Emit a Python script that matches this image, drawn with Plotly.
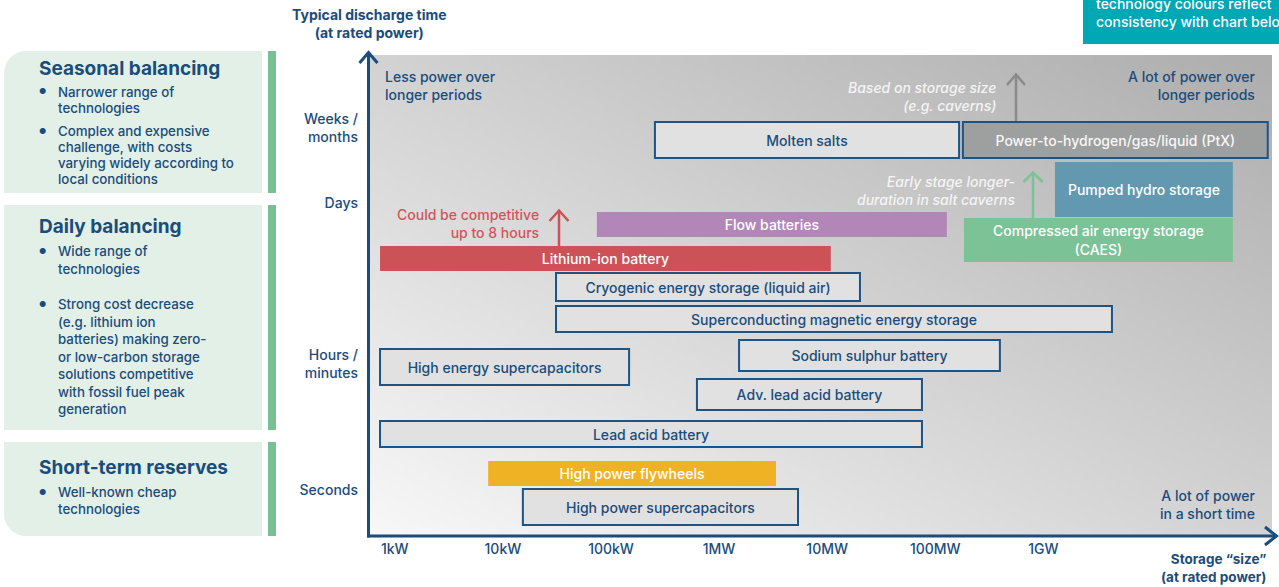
import base64
import struct
import zlib

import numpy as np
import plotly.graph_objects as go

# ---------------------------------------------------------------- data
technologies = [
    "Molten salts",
    "Power-to-hydrogen/gas/liquid (PtX)",
    "Pumped hydro storage",
    "Compressed air energy storage<br>(CAES)",
    "Flow batteries",
    "Lithium-ion battery",
    "Cryogenic energy storage (liquid air)",
    "Superconducting magnetic energy storage",
    "Sodium sulphur battery",
    "High energy supercapacitors",
    "Adv. lead acid battery",
    "Lead acid battery",
    "High power flywheels",
    "High power supercapacitors",
]
# storage size range (kW, at rated power)
power_min_kw = [255, 1.8e5, 1.28e6, 1.84e5, 74, 0.73, 31, 31, 1530, 0.73, 624, 0.73, 7.3, 15.3]
power_max_kw = [1.66e5, 1.19e8, 5.66e7, 5.66e7, 1.28e5, 1.08e4, 2.01e4, 4.31e6, 3.96e5, 147, 7.53e4, 7.53e4, 3360, 5370]
# typical discharge time (qualitative scale, 0 = instant ... 48 = seasonal)
duration_lo = [37.8, 37.8, 31.9, 27.4, 29.9, 26.5, 23.5, 20.4, 16.5, 15.1, 12.6, 8.9, 5.0, 1.1]
duration_hi = [41.4, 41.4, 37.4, 31.8, 32.4, 29.0, 26.3, 23.0, 19.6, 18.7, 15.7, 11.5, 7.5, 4.7]

power_tick_vals = [1, 10, 100, 1e3, 1e4, 1e5, 1e6]
power_tick_text = ["1kW", "10kW", "100kW", "1MW", "10MW", "100MW", "1GW"]
duration_tick_vals = [4.6, 17.2, 33.3, 40.8]
duration_tick_text = ["Seconds", "Hours /<br>minutes", "Days", "Weeks /<br>months"]

panel_titles = ["Seasonal balancing", "Daily balancing", "Short-term reserves"]
panel_bullets = [
    [["Narrower range of", "technologies"],
     ["Complex and expensive", "challenge, with costs", "varying widely according to", "local conditions"]],
    [["Wide range of", "technologies"],
     ["Strong cost decrease", "(e.g. lithium ion", "batteries) making zero-", "or low-carbon storage",
      "solutions competitive", "with fossil fuel peak", "generation"]],
    [["Well-known cheap", "technologies"]],
]

# ---------------------------------------------------------------- styles
NAVY = "#1a4c7c"
OUTLINE_FILL = "#e1e1e1"
OUTLINE_LINE = "#1c5485"
style = {
    "Power-to-hydrogen/gas/liquid (PtX)": ("#9e9f9f", OUTLINE_LINE, 2, "#f7f7f7"),
    "Pumped hydro storage": ("#6399b0", "#6399b0", 0, "#ffffff"),
    "Compressed air energy storage<br>(CAES)": ("#7bc296", "#7bc296", 0, "#ffffff"),
    "Flow batteries": ("#b287b8", "#b287b8", 0, "#ffffff"),
    "Lithium-ion battery": ("#cd5257", "#cd5257", 0, "#ffffff"),
    "High power flywheels": ("#efb225", "#efb225", 0, "#ffffff"),
}
default_style = (OUTLINE_FILL, OUTLINE_LINE, 2, NAVY)
fills = [style.get(t, default_style)[0] for t in technologies]
lines = [style.get(t, default_style)[1] for t in technologies]
lwidths = [style.get(t, default_style)[2] for t in technologies]
tcolors = [style.get(t, default_style)[3] for t in technologies]

FONT = "Inter, Roboto, sans-serif"
WEIGHT = 500
W, H = 1279, 587
PLOT_L, PLOT_R, PLOT_T, PLOT_B = 368, 1272, 55, 536


def px(x):
    return x / W


def py(y):
    return 1 - y / H


# ---------------------------------------------------------------- gradient background image
def gradient_uri(w=160, h=90, light=248, dark=174):
    u = np.linspace(0, 1, w)[None, :]
    v = np.linspace(1, 0, h)[:, None]
    t = (u + v) / 2
    val = (light - t * (light - dark)).astype(np.uint8)
    arr = np.repeat(val[:, :, None], 3, axis=2)
    raw = b"".join(b"\x00" + row.tobytes() for row in arr)

    def chunk(tag, data):
        c = struct.pack(">I", len(data)) + tag + data
        return c + struct.pack(">I", zlib.crc32(tag + data) & 0xFFFFFFFF)

    png = (b"\x89PNG\r\n\x1a\n"
           + chunk(b"IHDR", struct.pack(">IIBBBBB", w, h, 8, 2, 0, 0, 0))
           + chunk(b"IDAT", zlib.compress(raw))
           + chunk(b"IEND", b""))
    return "data:image/png;base64," + base64.b64encode(png).decode()


# ---------------------------------------------------------------- figure
lo = np.array(power_min_kw)
hi = np.array(power_max_kw)
dlo = np.array(duration_lo)
dhi = np.array(duration_hi)

fig = go.Figure()
fig.add_trace(go.Bar(
    orientation="h",
    y=(dlo + dhi) / 2,
    width=dhi - dlo,
    base=lo,
    x=hi - lo,
    text=technologies,
    textposition="inside",
    insidetextanchor="middle",
    textangle=0,
    constraintext="none",
    textfont=dict(family=FONT, size=14, color=tcolors, weight=WEIGHT),
    marker=dict(color=fills, line=dict(color=lines, width=lwidths)),
    hoverinfo="skip",
))

shapes = []


def seg(points, color, width):
    path = "M " + " L ".join(f"{px(a):.5f},{py(b):.5f}" for a, b in points)
    shapes.append(dict(type="path", xref="paper", yref="paper", path=path,
                       line=dict(color=color, width=width), layer="above"))


def rect(x0, y0, x1, y1, fill):
    shapes.append(dict(type="rect", xref="paper", yref="paper",
                       x0=px(x0), x1=px(x1), y0=py(y1), y1=py(y0),
                       fillcolor=fill, line=dict(width=0), layer="below"))


# axes with arrows
seg([(368.5, 537.5), (368.5, 53)], NAVY, 3)
seg([(359.5, 63), (368.5, 52.5), (377.5, 63)], NAVY, 3)
seg([(367, 536), (1276, 536)], NAVY, 3)
seg([(1265, 527), (1276.5, 536), (1265, 545)], NAVY, 3)

# small annotation arrows
seg([(559, 246), (559, 211)], "#cd5257", 2.5)
seg([(549.5, 221), (559, 210.5), (568.5, 221)], "#cd5257", 2.5)
seg([(1033, 218), (1033, 173)], "#7bc296", 2.5)
seg([(1023.5, 182), (1033, 172.5), (1042.5, 182)], "#7bc296", 2.5)
seg([(1016, 121), (1016, 75)], "#8a8a8a", 2.5)
seg([(1007, 85), (1016, 74.5), (1025, 85)], "#8a8a8a", 2.5)

# left panels
MINT = "#e3f0e8"
GREEN = "#78c195"
r = 22
k = 0.45
shapes.append(dict(type="path", xref="paper", yref="paper", layer="below",
                   fillcolor=MINT, line=dict(width=0),
                   path=(f"M {px(4)},{py(193)} L {px(4)},{py(51 + r)} "
                         f"C {px(4)},{py(51 + r * k)} {px(4 + r * k)},{py(51)} {px(4 + r)},{py(51)} "
                         f"L {px(262)},{py(51)} L {px(262)},{py(193)} Z")))
rect(268, 51, 276, 193, GREEN)
rect(4, 205, 262, 430, MINT)
rect(268, 205, 276, 430, GREEN)
shapes.append(dict(type="path", xref="paper", yref="paper", layer="below",
                   fillcolor=MINT, line=dict(width=0),
                   path=(f"M {px(4)},{py(442)} L {px(262)},{py(442)} L {px(262)},{py(536)} "
                         f"L {px(4 + r)},{py(536)} "
                         f"C {px(4 + r * k)},{py(536)} {px(4)},{py(536 - r * k)} {px(4)},{py(536 - r)} Z")))
rect(268, 442, 276, 536, GREEN)

# teal note box (top right)
rect(1083, -5, 1290, 44, "#00a7b5")

annotations = []


def note(text, x, y, xanchor="left", size=14, color=NAVY, bold=False,
         italic=False, yanchor="middle", weight=WEIGHT):
    if bold:
        text = "<br>".join(f"<b>{s}</b>" for s in text.split("<br>"))
    if italic:
        text = "<br>".join(f"<i>{s}</i>" for s in text.split("<br>"))
    annotations.append(dict(
        text=text, x=px(x), y=py(y), xref="paper", yref="paper",
        xanchor=xanchor, yanchor=yanchor, showarrow=False,
        align=xanchor if xanchor != "center" else "center",
        font=dict(family=FONT, size=size, color=color, weight=weight),
    ))


note("Typical discharge time<br>(at rated power)", 369, 23.5, xanchor="center", size=14, bold=True)
note("Storage “size”<br>(at rated power)", 1268, 568, xanchor="right", size=13.5, bold=True)
note("Less power over<br>longer periods", 383, 85)
note("A lot of power over<br>longer periods", 1257, 85, xanchor="right")
note("A lot of power<br>in a short time", 1257, 504.5, xanchor="right")
note("Based on storage size<br>(e.g. caverns)", 998, 96.5, xanchor="right", color="#f4f4f4", italic=True)
note("Early stage longer-<br>duration in salt caverns", 1017, 190.5, xanchor="right", color="#f4f4f4", italic=True)
note("Could be competitive<br>up to 8 hours", 541, 223.5, xanchor="right", color="#d2545b")
note("technology colours reflect<br>consistency with chart below", 1094, 12.5, color="#ffffff")

# panel titles and bullets (layout positions per panel)
title_y = [69, 226, 467]
para_y = [[92, 131], [251, 304], [492]]
line_step = [16, 17.5, 17]
for ti, title in enumerate(panel_titles):
    note(title, 37, title_y[ti], size=19, bold=True)
    for pi, para in enumerate(panel_bullets[ti]):
        y0 = para_y[ti][pi]
        note("●", 37, y0 - 0.5, size=8)
        for li, txt in enumerate(para):
            note(txt, 56, y0 + li * line_step[ti], size=13.3)

fig.update_layout(
    width=W, height=H,
    margin=dict(l=0, r=0, t=0, b=0),
    paper_bgcolor="#ffffff",
    plot_bgcolor="rgba(0,0,0,0)",
    showlegend=False,
    barmode="overlay",
    shapes=shapes,
    annotations=annotations,
    images=[dict(source=gradient_uri(), xref="paper", yref="paper",
                 x=px(PLOT_L), y=py(PLOT_T), sizex=px(PLOT_R) - px(PLOT_L),
                 sizey=py(PLOT_T) - py(PLOT_B), sizing="stretch",
                 xanchor="left", yanchor="top", layer="below")],
    xaxis=dict(
        type="log", range=[-0.248, 8.115],
        domain=[px(PLOT_L), px(PLOT_R)],
        tickvals=power_tick_vals, ticktext=power_tick_text,
        ticks="", ticklabelstandoff=3,
        tickfont=dict(family=FONT, size=14, color=NAVY, weight=WEIGHT),
        showgrid=False, zeroline=False, showline=False, fixedrange=True,
    ),
    yaxis=dict(
        range=[0, 48.1],
        domain=[py(PLOT_B), py(PLOT_T)],
        tickvals=duration_tick_vals, ticktext=duration_tick_text,
        ticks="", ticklabelstandoff=9,
        tickfont=dict(family=FONT, size=14, color=NAVY, weight=WEIGHT),
        showgrid=False, zeroline=False, showline=False, fixedrange=True,
    ),
)

fig.write_html(
    "out.html",
    config={"displayModeBar": False},
    post_script="document.body.style.margin='0';document.body.style.overflow='hidden';",
)
